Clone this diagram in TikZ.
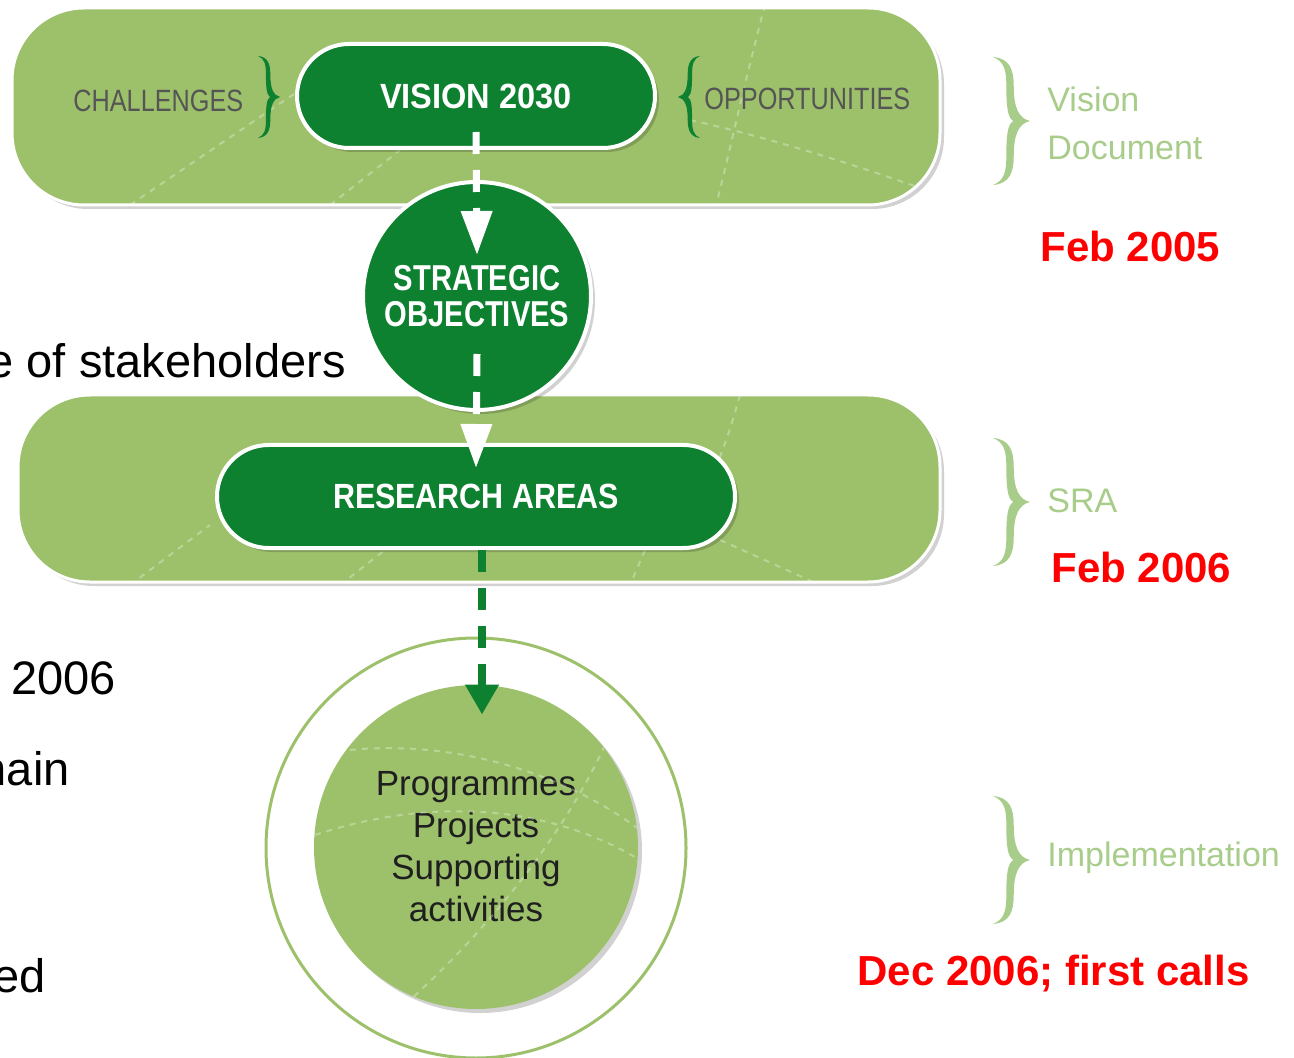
\documentclass[tikz,border=0pt]{standalone}
\usepackage{fontspec}
\setmainfont{Liberation Sans}
\newfontfamily\visfont{Liberation Sans}[FakeStretch=0.93]
\newfontfamily\resfont{Liberation Sans}[FakeStretch=0.87]
\newfontfamily\strfont{Liberation Sans}[FakeStretch=0.81]
\newfontfamily\grayfont{Liberation Sans}[FakeStretch=0.82]
\usetikzlibrary{arrows.meta,shadows}
\definecolor{bandgreen}{HTML}{9DC16B}
\definecolor{darkgreen}{HTML}{0E8130}
\definecolor{labelgreen}{HTML}{A8CD8A}
\definecolor{graytext}{HTML}{555555}
\tikzset{
  mysh/.style={drop shadow={shadow xshift=2pt, shadow yshift=-2pt, opacity=0.18, fill=black}},
  bandbox/.style={rectangle, rounded corners=36pt, fill=bandgreen, draw=white, line width=1.5pt, mysh},
  pillbox/.style={rectangle, fill=darkgreen, draw=white, line width=2pt, text=white, mysh},
  stratbox/.style={circle, fill=darkgreen, draw=white, line width=2pt, text=white, mysh, align=center, inner sep=0pt},
  ringbox/.style={circle, draw=bandgreen, line width=1.5pt, fill=white, inner sep=0pt},
  innerbox/.style={circle, fill=bandgreen, mysh, align=center, inner sep=0pt, text=black!88},
  whitearrow/.style={draw=white, line width=3.5pt, dash pattern=on 11pt off 8pt, -{Triangle[length=22pt,width=15pt]}},
  greenarrow/.style={draw=darkgreen, line width=4pt, dash pattern=on 11pt off 8pt, -{Triangle[length=15pt,width=16pt]}},
  graylabel/.style={text=graytext, font=\grayfont\fontsize{15.4}{16}\selectfont, anchor=base west, inner sep=0pt},
  phaselabel/.style={text=labelgreen, font=\fontsize{17}{17}\selectfont, anchor=base west, inner sep=0pt},
  datelabel/.style={text=red, font=\bfseries\fontsize{21}{21}\selectfont, anchor=base west, inner sep=0pt},
  cuttext/.style={text=black, font=\fontsize{23.5}{23.5}\selectfont, anchor=base east, inner sep=0pt},
  texture/.style={white, opacity=0.3, line width=1pt, dash pattern=on 3pt off 3pt},
  rbrace/.pic={\fill[#1] (0,1) .. controls (0.45,0.98) and (0.56,0.8) .. (0.56,0.55)
      .. controls (0.56,0.2) and (0.7,0.04) .. (1,0)
      .. controls (0.7,-0.04) and (0.56,-0.2) .. (0.56,-0.55)
      .. controls (0.56,-0.8) and (0.45,-0.98) .. (0,-1)
      .. controls (0.3,-0.93) and (0.36,-0.8) .. (0.36,-0.55)
      .. controls (0.36,-0.2) and (0.4,-0.05) .. (0.55,0)
      .. controls (0.4,0.05) and (0.36,0.2) .. (0.36,0.55)
      .. controls (0.36,0.8) and (0.3,0.93) .. (0,1) -- cycle;}
}
\begin{document}
\begin{tikzpicture}[x=0.5pt,y=-0.5pt]
\useasboundingbox (0,0) rectangle (1294,1058);
\clip (0,0) rectangle (1294,1058);

% bands
\node[bandbox, minimum width=464pt, minimum height=98.5pt] (band1) at (476,106.5) {};
\begin{scope}
  \clip[rounded corners=36pt] (12,8) rectangle (940,205);
  \draw[texture] (130,205) -- (300,90);
  \draw[texture] (330,205) -- (400,150);
  \draw[texture] (765,5) .. controls (745,80) and (730,150) .. (715,210);
  \draw[texture] (690,120) .. controls (780,140) and (870,170) .. (940,195);
\end{scope}
\node[bandbox, minimum width=461pt, minimum height=93.5pt] (band2) at (479,488.5) {};
\begin{scope}
  \clip[rounded corners=36pt] (18,395) rectangle (940,582);
  \draw[texture] (130,585) -- (210,525);
  \draw[texture] (340,585) -- (385,550);
  \draw[texture] (740,395) .. controls (730,430) .. (715,470);
  \draw[texture] (720,540) -- (820,585);
  \draw[texture] (645,550) -- (630,585);
\end{scope}

% side labels in top band
\node[graylabel] (chal) at (73,112) {CHALLENGES};
\node[graylabel] (opp) at (704,110) {OPPORTUNITIES};
\pic[xscale=22, yscale=41] at (258,97) {rbrace=darkgreen};
\pic[xscale=-22, yscale=41] at (700,97) {rbrace=darkgreen};

% main boxes
\node[pillbox, minimum width=179pt, minimum height=52pt, rounded corners=26pt,
      font=\visfont\bfseries\fontsize{17.5}{17.5}\selectfont] (vision) at (476,96) {VISION 2030};
\node[pillbox, minimum width=259pt, minimum height=51.5pt, rounded corners=25.75pt,
      font=\resfont\bfseries\fontsize{17.5}{17.5}\selectfont] (research) at (476,496.5) {RESEARCH AREAS};
\node[stratbox, minimum size=114pt,
      font=\strfont\bfseries\fontsize{18}{18}\selectfont] (strat) at (477,296) {STRATEGIC\\OBJECTIVES};

% white connectors
\draw[whitearrow] ([yshift=9pt]vision.south) -- ([yshift=-37.5pt]strat.north);
\draw[whitearrow] ([yshift=29pt]strat.south) -- ([yshift=-12.5pt]research.north);

% implementation circles
\node[ringbox, minimum size=210pt] (ring) at (476,848) {};
\node[innerbox, minimum size=162pt,
      font=\fontsize{17.5}{21}\selectfont] (inner) at (476,847)
      {Programmes\\Projects\\Supporting\\activities};
\begin{scope}
  \clip (inner.center) circle[radius=81pt];
  \draw[texture] (350,750) .. controls (450,740) and (560,770) .. (640,830);
  \draw[texture] (315,835) .. controls (420,800) and (540,800) .. (640,860);
  \draw[texture] (605,745) .. controls (580,800) and (520,900) .. (410,1000);
\end{scope}
\draw[greenarrow] ([xshift=3pt]research.south) -- ([xshift=3pt,yshift=-15pt]inner.north);

% right phase braces and labels
\pic[xscale=37, yscale=64] at (993,121) {rbrace=labelgreen};
\pic[xscale=37, yscale=64] at (993,502) {rbrace=labelgreen};
\pic[xscale=37, yscale=64] at (993,860) {rbrace=labelgreen};
\node[phaselabel] (vis) at (1047,112) {Vision};
\node[phaselabel] (doc) at (1047,160) {Document};
\node[phaselabel] (sra) at (1047,512) {SRA};
\node[phaselabel] (impl) at (1047,866) {Implementation};

% dates
\node[datelabel] (d1) at (1040,262) {Feb 2005};
\node[datelabel] (d2) at (1051,582) {Feb 2006};
\node[datelabel] (d3) at (857,985) {Dec 2006; first calls};

% cut-off text at left
\node[cuttext] (t1) at (346,378) {e of stakeholders};
\node[cuttext] (t2) at (116,694) {2006};
\node[cuttext] (t3) at (70,785) {nain};
\node[cuttext] (t4) at (46,992) {ed};
\end{tikzpicture}
\end{document}
